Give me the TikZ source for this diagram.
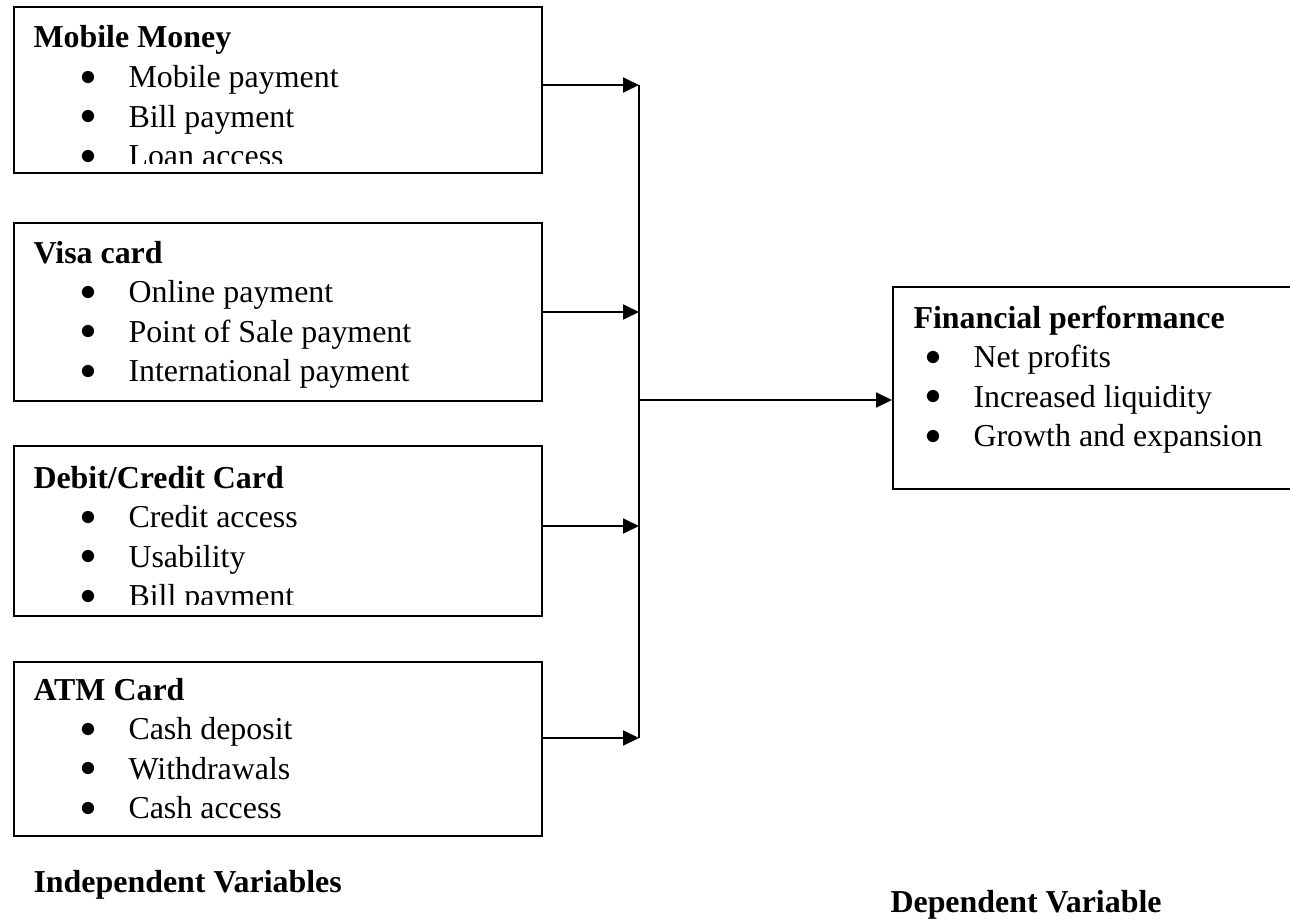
\documentclass[tikz,border=0pt]{standalone}
\usepackage{fontspec}
\setmainfont{Liberation Serif}
\usetikzlibrary{arrows.meta,calc}
\newcommand{\pxu}{0.376pt}
\tikzset{
  box/.style={draw, line width=0.7pt, inner sep=0pt, anchor=north west},
  head/.style={anchor=base west, inner sep=0pt, font=\fontsize{12}{14}\selectfont\bfseries},
  itm/.style={anchor=base west, inner sep=0pt, font=\fontsize{12}{14}\selectfont,
    execute at begin node={\llap{\raisebox{0.8pt}{\makebox[4.4pt]{$\bullet$}}\hspace{12.8pt}}}},
  link/.style={line width=0.8pt},
  arr/.style={link, -{Triangle[length=6pt,width=5.6pt]}},
}

\begin{document}
\begin{tikzpicture}[x=\pxu, y=-\pxu]
\useasboundingbox (0,0) rectangle (1290,919);
\clip (0,0) rectangle (1290,919);

% independent variable boxes
\node[box, minimum width=528*\pxu, minimum height=166*\pxu] (mm) at (13,6) {};
\node[box, minimum width=528*\pxu, minimum height=178*\pxu] (visa) at (13,222) {};
\node[box, minimum width=528*\pxu, minimum height=170*\pxu] (debit) at (13,445) {};
\node[box, minimum width=528*\pxu, minimum height=174*\pxu] (atm) at (13,661) {};
% dependent variable box
\node[box, minimum width=420*\pxu, minimum height=202*\pxu] (fp) at (892,286) {};

\begin{scope}
\clip (mm.north west) rectangle ([yshift=4pt]mm.south east);
\node[head] (mmhead) at (33,48) {Mobile Money};
\foreach \t [count=\i] in {Mobile payment, Bill payment, Loan access}
  \node[itm] (mm\i) at (128,48+39.5*\i) {\t};
\end{scope}

\node[head] (visahead) at (33,263) {Visa card};
\foreach \t [count=\i] in {Online payment, Point of Sale payment, International payment}
  \node[itm] (visa\i) at (128,263+39.5*\i) {\t};

\begin{scope}
\clip (debit.north west) rectangle ([yshift=4.5pt]debit.south east);
\node[head] (debithead) at (33,488) {Debit/Credit Card};
\foreach \t [count=\i] in {Credit access, Usability, Bill payment}
  \node[itm] (debit\i) at (128,488+39.5*\i) {\t};
\end{scope}

\node[head] (atmhead) at (33,700) {ATM Card};
\foreach \t [count=\i] in {Cash deposit, Withdrawals, Cash access}
  \node[itm] (atm\i) at (128,700+39.5*\i) {\t};

\node[head] (fphead) at (913,328) {Financial performance};
\foreach \t [count=\i] in {Net profits, Increased liquidity, Growth and expansion}
  \node[itm] (fp\i) at (973,328+39.5*\i) {\t};

% captions
\node[head] (indep) at (33,892) {Independent Variables};
\node[head] (dep) at (890,912) {Dependent Variable};

% connectors
\coordinate (b1) at (639,85);
\coordinate (b2) at (639,312);
\coordinate (b3) at (639,526);
\coordinate (b4) at (639,738);
\coordinate (j) at (639,400);
\draw[link] (b1) -- (b4);
\foreach \b/\n in {b1/mm, b2/visa, b3/debit, b4/atm}
  \draw[arr] (\b -| \n.east) -- (\b);
\draw[arr] (j) -- (j -| fp.west);
\end{tikzpicture}
\end{document}
